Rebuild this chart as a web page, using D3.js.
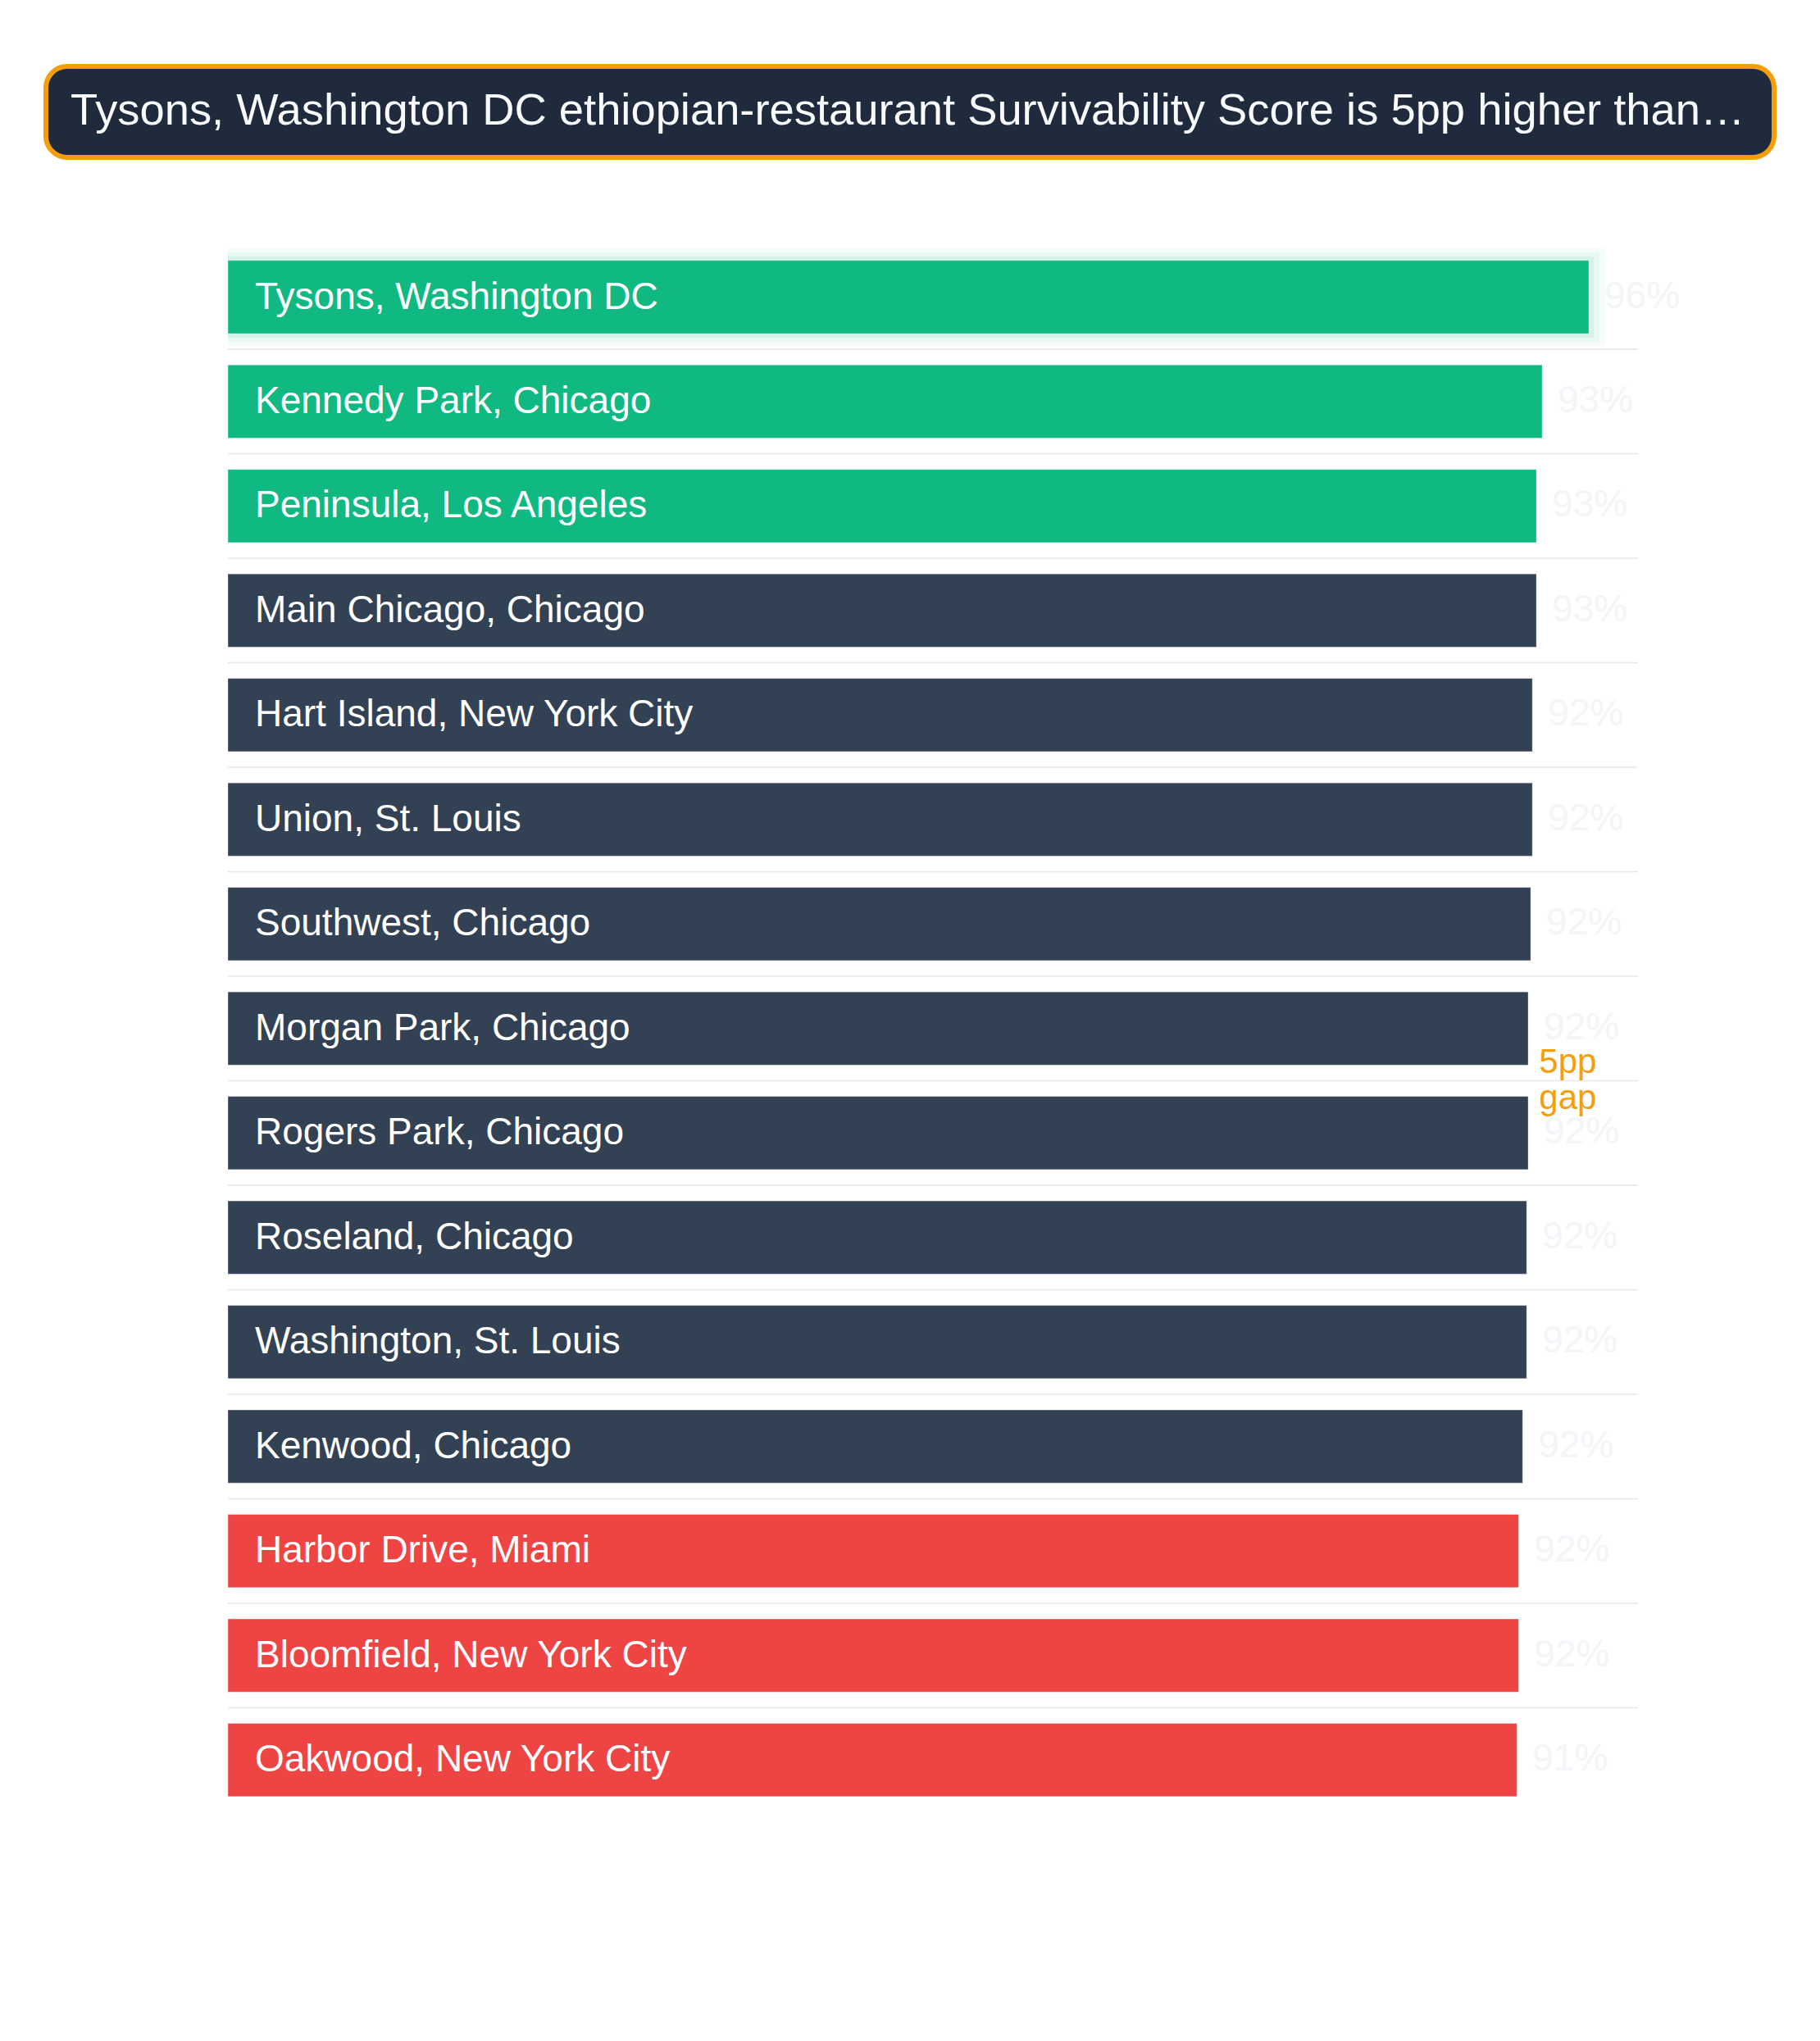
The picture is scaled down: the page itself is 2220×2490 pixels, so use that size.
<!DOCTYPE html>
<html>
<head>
<meta charset="utf-8">
<script src="https://cdn.jsdelivr.net/npm/d3@7"></script>
<style>
  body { margin: 0; background: #fff; }
  svg { display: block; font-family: "Helvetica Neue", Helvetica, Arial, "Liberation Sans", sans-serif; }
</style>
</head>
<body>
<svg width="2220" height="2490"></svg>
<script>
const svg = d3.select("svg"),
    width = +svg.attr("width"),
    height = +svg.attr("height");

// data
const neighborhoods = [
  "Tysons, Washington DC", "Kennedy Park, Chicago", "Peninsula, Los Angeles",
  "Main Chicago, Chicago", "Hart Island, New York City", "Union, St. Louis",
  "Southwest, Chicago", "Morgan Park, Chicago", "Rogers Park, Chicago",
  "Roseland, Chicago", "Washington, St. Louis", "Kenwood, Chicago",
  "Harbor Drive, Miami", "Bloomfield, New York City", "Oakwood, New York City"
];
const scores = [95.70, 92.92, 92.58, 92.58, 92.34, 92.34, 92.24, 92.09, 92.09, 92.00, 92.00, 91.76, 91.52, 91.52, 91.42];
const tiers = ["top", "top", "top", "mid", "mid", "mid", "mid", "mid", "mid", "mid", "mid", "mid", "low", "low", "low"];

const titleText = "Tysons, Washington DC ethiopian-restaurant Survivability Score is 5pp higher than\u2026";
const gapLines = ["5pp", "gap"];

const tierColor = { top: "#10b981", mid: "#334155", low: "#ef4444" };

const rows = neighborhoods.map((n, i) => ({ name: n, value: scores[i], tier: tiers[i] }));

const x = d3.scaleLinear()
    .domain([14.7, 95.7])
    .range([278, 1938]);

const y = d3.scaleBand()
    .domain(neighborhoods)
    .range([279.5, 2230])
    .padding(0.3);

const bw = y.bandwidth();
const fmt = v => d3.format(".0f")(v) + "%";

// title box
const gTitle = svg.append("g");
gTitle.append("rect")
    .attr("x", 56).attr("y", 81)
    .attr("width", 2108).attr("height", 111)
    .attr("rx", 26)
    .attr("fill", "#1f2a3d")
    .attr("stroke", "#f59e0b")
    .attr("stroke-width", 6);

const title = gTitle.append("text")
    .attr("x", 86).attr("y", 152)
    .attr("fill", "#f8fafc")
    .attr("font-size", 54)
    .text(titleText);
// fit the title to the box width
const tw = title.node().getComputedTextLength();
title.attr("font-size", 54 * 2043 / tw);

// separators between rows
const gGrid = svg.append("g");
gGrid.selectAll("line")
    .data(neighborhoods.slice(0, -1))
    .enter()
    .append("line")
    .attr("x1", 278).attr("x2", 1998)
    .attr("y1", d => y(d) + bw + (y.step() - bw) / 2)
    .attr("y2", d => y(d) + bw + (y.step() - bw) / 2)
    .attr("stroke", "#e5e7eb")
    .attr("stroke-width", 1.5);

// glow behind the leader
const leader = rows[0];
const gGlow = svg.append("g");
[[20, 15, 0.04], [13, 10, 0.06], [6, 5, 0.08]].forEach(([dx, dy, op]) => {
  gGlow.append("rect")
      .attr("x", x.range()[0])
      .attr("y", y(leader.name) - dy)
      .attr("width", x(leader.value) - x.range()[0] + dx)
      .attr("height", bw + 2 * dy)
      .attr("fill", tierColor.top)
      .attr("opacity", op);
});

const gBars = svg.append("g");
gBars.selectAll("rect")
    .data(rows)
    .enter()
    .append("rect")
    .attr("x", x.range()[0])
    .attr("y", d => y(d.name))
    .attr("width", d => x(d.value) - x.range()[0])
    .attr("height", bw)
    .attr("fill", d => tierColor[d.tier])
    .attr("stroke", "rgba(255,255,255,0.35)")
    .attr("stroke-width", 1);

// names inside the bars
gBars.selectAll(".name")
    .data(rows)
    .enter()
    .append("text")
    .attr("class", "name")
    .attr("x", x.range()[0] + 33)
    .attr("y", d => y(d.name) + bw / 2 + 2)
    .attr("dominant-baseline", "middle")
    .attr("fill", "#ffffff")
    .attr("font-size", 46)
    .text(d => d.name);

// value labels, very faint
gBars.selectAll(".val")
    .data(rows)
    .enter()
    .append("text")
    .attr("class", "val")
    .attr("x", d => x(d.value) + 19)
    .attr("y", d => y(d.name) + bw / 2 + 1)
    .attr("dominant-baseline", "middle")
    .attr("fill", "#f3f5f8")
    .attr("font-size", 46)
    .text(d => fmt(d.value));

// gap annotation
const last = rows[rows.length - 1];
const midY = (y(leader.name) + y(last.name) + bw) / 2;
const note = svg.append("text")
    .attr("x", x(last.value) + 27)
    .attr("y", midY + 54)
    .attr("fill", "#f59e0b")
    .attr("font-size", 42);
note.selectAll("tspan")
    .data(gapLines)
    .enter()
    .append("tspan")
    .attr("x", x(last.value) + 27)
    .attr("dy", (d, i) => i ? 44 : 0)
    .text(d => d);
</script>
</body>
</html>
